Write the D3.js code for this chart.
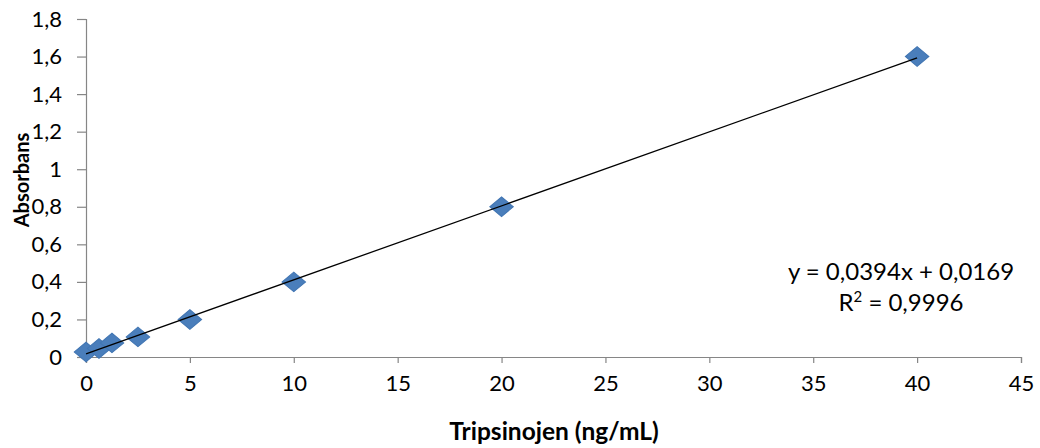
<!DOCTYPE html>
<html>
<head>
<meta charset="utf-8">
<script src="https://cdn.jsdelivr.net/npm/d3@7"></script>
<style>
	body { margin: 0; background: #fff; }
	svg { display: block; }
	text { font-family: Lato, "Open Sans", sans-serif; fill: #000; }
</style>
</head>
<body>
<svg id="chart" width="1040" height="448"></svg>
<script>
// concentrations (ng/mL) and absorbance
const CONC = [0, 0.625, 1.25, 2.5, 5, 10, 20, 40];
const ABS = [0.027, 0.045, 0.075, 0.107, 0.2, 0.4, 0.8, 1.6];
const X_TICKS = [0, 5, 10, 15, 20, 25, 30, 35, 40, 45];
const Y_TICKS = [0, 0.2, 0.4, 0.6, 0.8, 1, 1.2, 1.4, 1.6, 1.8];
// trendline as printed on the chart
const SLOPE = 0.0394;
const INTERCEPT = 0.0169;
const EQ_TEXT = 'y = 0,0394x + 0,0169';
const R2_TEXT = ' = 0,9996';

const svg = d3.select('#chart');
const AXIS_COLOR = '#868686';

const x = d3.scaleLinear().domain([0, 45]).range([86, 1021]);
const y = d3.scaleLinear().domain([0, 1.8]).range([357, 19]);

const fmt = v => String(v).replace('.', ',');

/* y axis */
const yAxis = svg.append('g')
	.attr('transform', `translate(${x(0)},0)`)
	.call(d3.axisLeft(y).tickValues(Y_TICKS).tickSize(9).tickPadding(15).tickFormat(fmt));
/* x axis */
const xAxis = svg.append('g')
	.attr('transform', `translate(0,${y(0)})`)
	.call(d3.axisBottom(x).tickValues(X_TICKS).tickSize(6).tickPadding(12).tickFormat(fmt));

[xAxis, yAxis].forEach(g => {
	g.selectAll('path, line').attr('stroke', AXIS_COLOR).attr('stroke-width', 1.2);
	g.selectAll('text').style('font-size', '22px').attr('fill', '#000');
});

/* points (the picture is a bit stretched sideways, so are the diamonds) */
const data = CONC.map((c, i) => ({ x: c, y: ABS[i] }));
svg.append('g').selectAll('path')
	.data(data)
	.enter().append('path')
		.attr('d', d3.symbol().type(d3.symbolSquare).size(190))
		.attr('transform', d => `translate(${x(d.x)},${y(d.y)}) scale(1.2,1) rotate(45)`)
		.attr('fill', '#4a7ebb')
		.attr('stroke', '#4276b3')
		.attr('stroke-width', 1);

/* trendline */
const xMin = d3.min(CONC), xMax = d3.max(CONC);
svg.append('line')
	.attr('x1', x(xMin)).attr('y1', y(SLOPE * xMin + INTERCEPT))
	.attr('x2', x(xMax)).attr('y2', y(SLOPE * xMax + INTERCEPT))
	.attr('stroke', '#000')
	.attr('stroke-width', 1.3);

/* equation */
const eq = svg.append('text')
	.attr('text-anchor', 'middle')
	.style('font-size', '24px');
eq.append('tspan').attr('x', 901).attr('y', 280).text(EQ_TEXT);
const r2 = eq.append('tspan').attr('x', 901).attr('y', 311);
r2.append('tspan').text('R');
r2.append('tspan').attr('dy', -9).style('font-size', '15px').text('2');
r2.append('tspan').attr('dy', 9).text(R2_TEXT);

/* axis titles */
svg.append('text')
	.attr('x', 554).attr('y', 440)
	.attr('text-anchor', 'middle')
	.style('font-size', '24.5px').style('font-weight', 'bold')
	.text('Tripsinojen (ng/mL)');
svg.append('text')
	.attr('transform', 'translate(29,180) rotate(-90)')
	.attr('text-anchor', 'middle')
	.style('font-size', '20px').style('font-weight', 'bold')
	.text('Absorbans');
</script>
</body>
</html>
